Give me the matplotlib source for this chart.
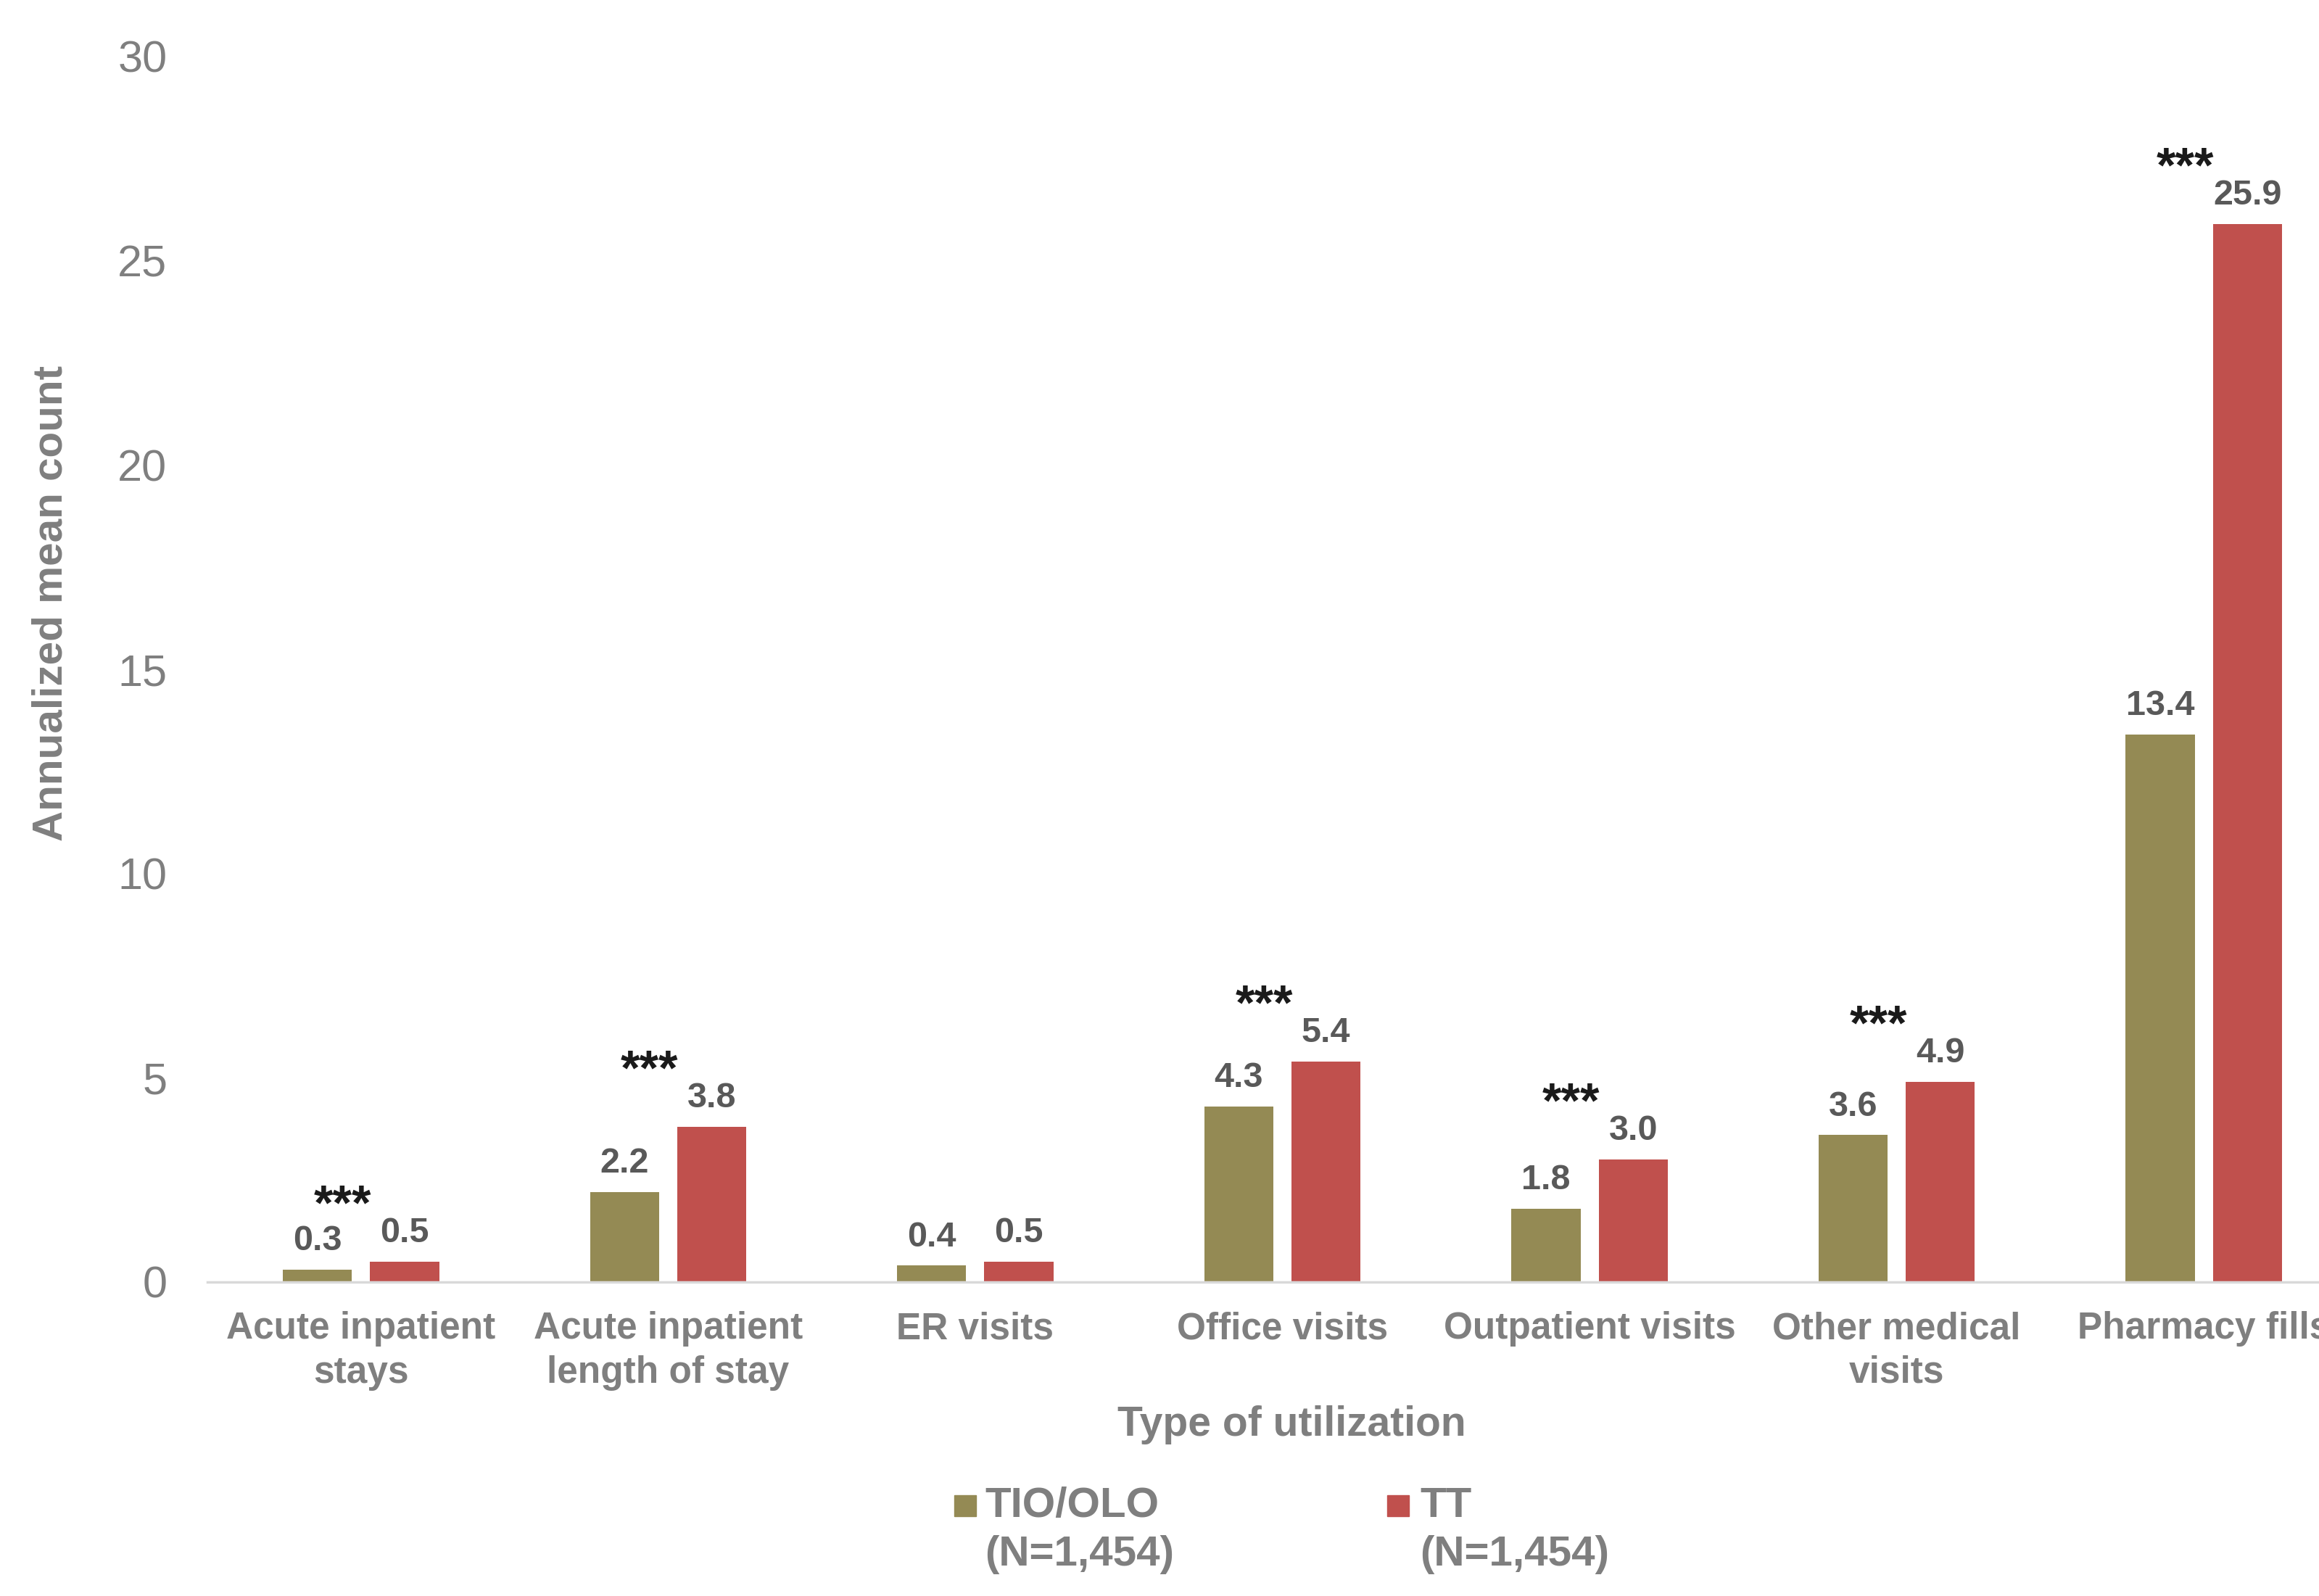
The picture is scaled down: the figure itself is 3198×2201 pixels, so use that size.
import matplotlib
matplotlib.use('Agg')
import matplotlib.pyplot as plt
import numpy as np
from matplotlib.patches import Rectangle

categories = ['Acute inpatient\nstays', 'Acute inpatient\nlength of stay', 'ER visits',
              'Office visits', 'Outpatient visits', 'Other medical\nvisits', 'Pharmacy fills']
tio_olo = [0.3, 2.2, 0.4, 4.3, 1.8, 3.6, 13.4]
tt = [0.5, 3.8, 0.5, 5.4, 3.0, 4.9, 25.9]
significant = [True, True, False, True, True, True, True]
series_names = ['TIO/OLO', 'TT']
series_n = ['(N=1,454)', '(N=1,454)']
yticks = [0, 5, 10, 15, 20, 25, 30]

olive = '#948A54'
red = '#C0504D'
gray = '#7F7F7F'
dark = '#595959'

plt.rcParams['font.family'] = ['Liberation Sans', 'DejaVu Sans']

W, H = 3198, 2201
fig = plt.figure(figsize=(W / 100, H / 100), dpi=100)
# axes extends past the right edge, like the source (last label is clipped)
ax = fig.add_axes([286 / W, 1 - 1768 / H, (3251 - 286) / W, (1768 - 78) / H])

x = np.arange(len(categories))
bw = 0.225
off = 0.142
ax.bar(x - off, tio_olo, bw, color=olive, zorder=2)
ax.bar(x + off, tt, bw, color=red, zorder=2)

for i in range(len(categories)):
    for xv, v in ((x[i] - off, tio_olo[i]), (x[i] + off, tt[i])):
        ax.annotate(f'{v:.1f}', (xv, v), xytext=(0, 12), textcoords='offset points',
                    ha='center', va='bottom', fontsize=35, fontweight='bold', color=dark)
    if significant[i]:
        top = max(tio_olo[i], tt[i])
        ax.annotate('***', (x[i] - 0.06, top), xytext=(0, 55), textcoords='offset points',
                    ha='center', va='center', fontsize=49, fontweight='bold', color='#1a1a1a')

ax.set_xlim(-0.5, len(categories) - 0.5)
ax.set_ylim(0, 30)
ax.set_yticks(yticks)
ax.set_xticks(x)
ax.set_xticklabels(categories, fontsize=37, fontweight='bold', color=gray, linespacing=1.3)
ax.tick_params(axis='y', length=0, pad=40, labelsize=44, labelcolor=gray)
ax.tick_params(axis='x', length=0, pad=29)
for s in ['top', 'right', 'left']:
    ax.spines[s].set_visible(False)
ax.spines['bottom'].set_color('#D9D9D9')
ax.spines['bottom'].set_linewidth(2.5)

fig.text(71 / W, 1 - 832 / H, 'Annualized mean count', rotation=90, ha='center', va='center',
         fontsize=42, fontweight='bold', color=gray)
fig.text(1781 / W, 1 - 1965 / H, 'Type of utilization', ha='center', va='center',
         fontsize=41, fontweight='bold', color=gray)

# legend
sq_x = [1316, 1913]
txt_x = [1358, 1958]
for k, col in enumerate([olive, red]):
    fig.patches.append(Rectangle((sq_x[k] / W, 1 - 2091 / H), 30 / W, 29 / H,
                                 transform=fig.transFigure, color=col))
    fig.text(txt_x[k] / W, 1 - 2077 / H, series_names[k], ha='left', va='center',
             fontsize=42, fontweight='bold', color=gray)
    fig.text(txt_x[k] / W, 1 - 2144 / H, series_n[k], ha='left', va='center',
             fontsize=42, fontweight='bold', color=gray)

fig.savefig('out.png', dpi=100, facecolor='white')
